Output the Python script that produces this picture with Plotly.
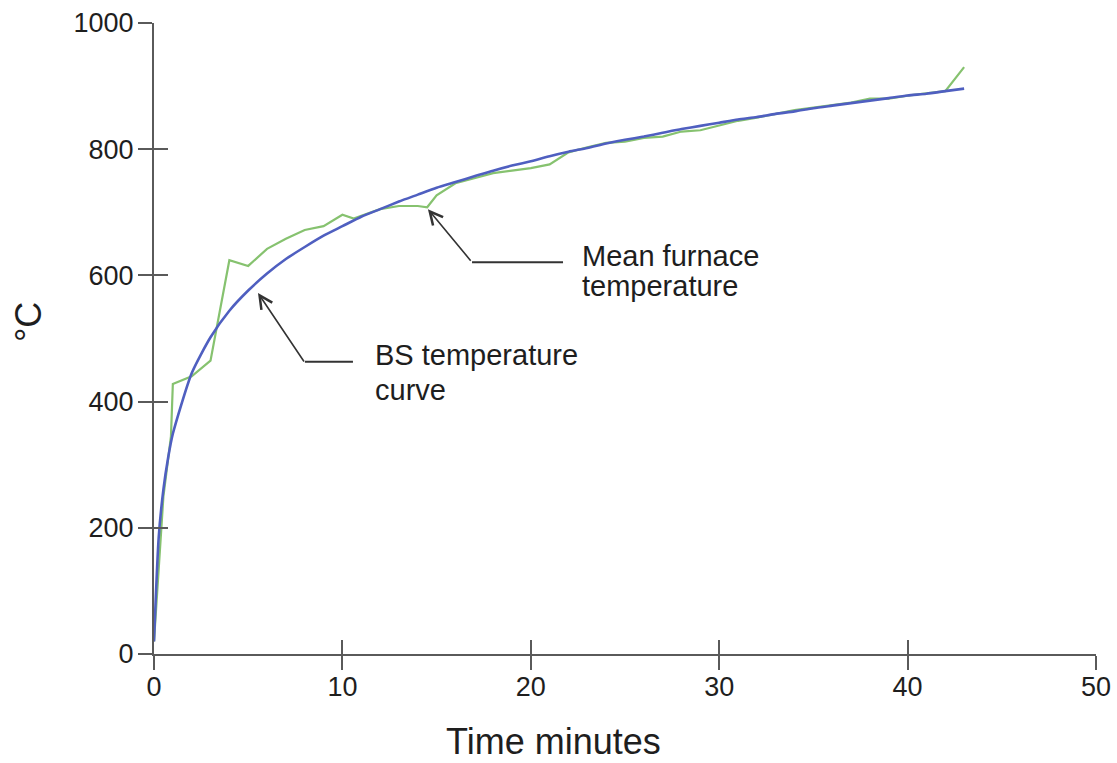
import plotly.graph_objects as go

# ---- data ----
bs_time = [0, 0.25, 0.5, 0.75, 1, 2, 3, 4, 5, 6, 7, 8, 9, 10, 11, 12, 13, 14, 15, 16,
           17, 18, 19, 20, 21, 22, 23, 24, 25, 26, 27, 28, 29, 30, 31, 32, 33, 34,
           35, 36, 37, 38, 39, 40, 41, 42, 43]
bs_temp = [20, 185, 261, 311, 349, 445, 502, 544, 576, 603, 626, 645, 663, 678, 693,
           705, 717, 728, 739, 748, 757, 766, 774, 781, 789, 796, 802, 809, 815, 820,
           826, 832, 837, 842, 847, 851, 856, 860, 865, 869, 873, 877, 881, 885, 888,
           892, 896]

furnace_time = [0, 0.5, 0.9, 1.0, 2, 3, 4, 5, 6, 7, 8, 9, 10, 10.6, 12, 13, 14, 14.5,
                15, 16, 17, 18, 19, 20, 21, 22, 23, 24, 25, 26, 27, 28, 29, 30, 31, 32,
                33, 34, 35, 36, 37, 38, 39, 40, 41, 42, 43]
furnace_temp = [20, 250, 345, 428, 440, 465, 624, 615, 642, 658, 672, 678, 696, 690,
                705, 710, 710, 708, 727, 746, 754, 762, 766, 770, 776, 795, 803, 810,
                812, 818, 820, 828, 830, 838, 845, 850, 856, 862, 866, 870, 874, 880,
                880, 885, 888, 892, 930]

x_ticks = [0, 10, 20, 30, 40, 50]
y_ticks = [0, 200, 400, 600, 800, 1000]

FONT = "Liberation Sans, Arial, Helvetica, sans-serif"
AXIS_COLOR = "#5a5a5a"
TEXT_COLOR = "#1e1e1e"

fig = go.Figure()
fig.add_trace(go.Scatter(x=furnace_time, y=furnace_temp, mode="lines",
                         line=dict(color="#86c26f", width=2.2),
                         name="Mean furnace temperature", showlegend=False))
fig.add_trace(go.Scatter(x=bs_time, y=bs_temp, mode="lines",
                         line=dict(color="#4f5fc0", width=2.6, shape="spline", smoothing=0.6),
                         name="BS temperature curve", showlegend=False))
# invisible trace on the overlay axes (inner halves of the crossing ticks)
fig.add_trace(go.Scatter(x=[None], y=[None], xaxis="x2", yaxis="y2",
                         mode="lines", showlegend=False, hoverinfo="skip"))

axis_common = dict(showgrid=False, zeroline=False, tickcolor=AXIS_COLOR,
                   tickwidth=2, ticklen=14, automargin=False)

fig.update_layout(
    width=1117, height=763,
    margin=dict(l=154, r=21, t=23, b=109, autoexpand=False),
    paper_bgcolor="white", plot_bgcolor="white",
    font=dict(family=FONT, color=TEXT_COLOR),
    xaxis=dict(range=[0, 50], tickvals=x_ticks, ticktext=[str(v) for v in x_ticks],
               ticks="outside", showline=True, linecolor=AXIS_COLOR, linewidth=2,
               ticklabelstandoff=-6,
               tickfont=dict(size=27, family=FONT, color=TEXT_COLOR), **axis_common),
    yaxis=dict(range=[0, 1000], tickvals=y_ticks, ticktext=[str(v) for v in y_ticks],
               ticks="outside", showline=True, linecolor=AXIS_COLOR, linewidth=2,
               ticklabelstandoff=-1,
               tickfont=dict(size=27, family=FONT, color=TEXT_COLOR), **axis_common),
    xaxis2=dict(range=[0, 50], tickvals=x_ticks, overlaying="x", anchor="y2", side="bottom",
                ticks="inside", showticklabels=False, showline=False, **axis_common),
    yaxis2=dict(range=[0, 1000], tickvals=y_ticks, overlaying="y", anchor="x2", side="left",
                ticks="inside", showticklabels=False, showline=False, **axis_common),
)

# axis titles (as positioned in the reference)
fig.add_annotation(text="Time minutes", xref="paper", yref="paper",
                   x=0.4246, y=-0.1385, xanchor="center", yanchor="middle",
                   showarrow=False, font=dict(size=36, family=FONT, color=TEXT_COLOR))
fig.add_annotation(text="°C", xref="paper", yref="paper", textangle=-90,
                   x=-0.1338, y=0.526, xanchor="center", yanchor="middle",
                   showarrow=False, font=dict(size=36, family=FONT, color=TEXT_COLOR))

label_font = dict(size=29, family=FONT, color=TEXT_COLOR)
for txt, x, y in [("Mean furnace", 22.61, 630), ("temperature", 22.61, 583),
                  ("BS temperature", 11.62, 474), ("curve", 11.62, 419)]:
    fig.add_annotation(text=txt, x=x, y=y, xref="x", yref="y", xanchor="left",
                       yanchor="middle", showarrow=False, font=label_font)

# bent leader arrows: diagonal with open arrowhead + horizontal segment
ARROW_COLOR = "#333333"
for tipx, tipy, axp, ayp in [(14.54, 705, 44, 53), (5.52, 572, 47, 70)]:
    fig.add_annotation(x=tipx, y=tipy, xref="x", yref="y", ax=axp, ay=ayp,
                       text="", showarrow=True, arrowhead=5, arrowsize=1.6,
                       arrowwidth=1.6, arrowcolor=ARROW_COLOR, standoff=0)
for x0, x1, y in [(16.88, 21.71, 621), (8.01, 10.56, 463)]:
    fig.add_shape(type="line", x0=x0, x1=x1, y0=y, y1=y, xref="x", yref="y",
                  line=dict(color=ARROW_COLOR, width=2))

fig.write_html("out.html", config={"displayModeBar": False},
               post_script="document.body.style.margin='0px';document.body.style.overflow='hidden';")
